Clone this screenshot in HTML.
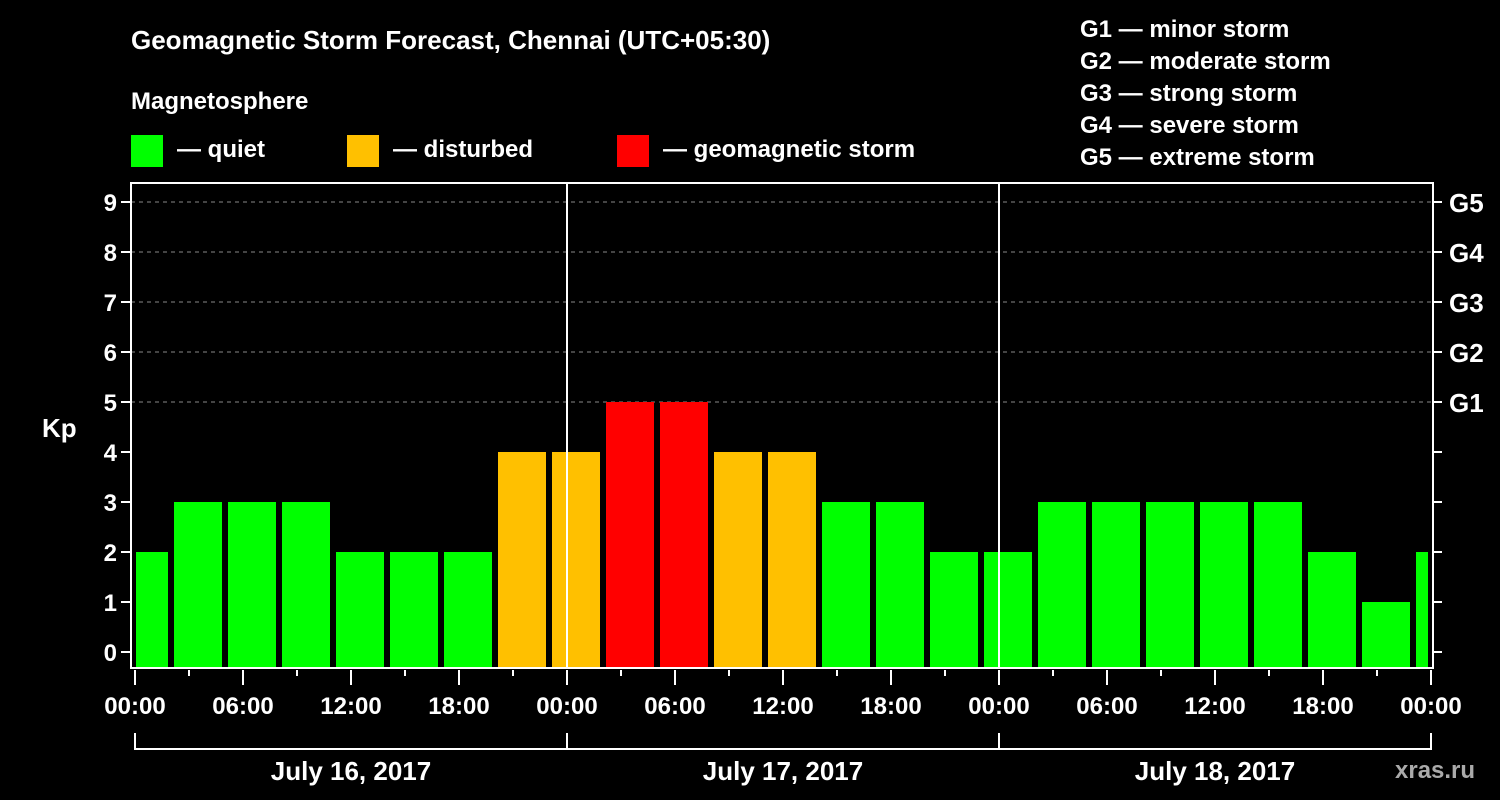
<!DOCTYPE html>
<html><head><meta charset="utf-8"><style>
html,body{margin:0;padding:0;background:#000;width:1500px;height:800px;overflow:hidden}
svg text{font-family:"Liberation Sans",Arial,sans-serif;font-weight:bold;fill:#fff}
</style></head><body>
<svg id="chart" width="1500" height="800" xmlns="http://www.w3.org/2000/svg">
<text x="131" y="49" font-size="26">Geomagnetic Storm Forecast, Chennai (UTC+05:30)</text>
<text x="131" y="109" font-size="24">Magnetosphere</text>
<g>
<rect x="131" y="135" width="32" height="32" fill="#00ff00"/>
<text x="177" y="157" font-size="24">— quiet</text>
<rect x="347" y="135" width="32" height="32" fill="#ffc000"/>
<text x="393" y="157" font-size="24">— disturbed</text>
<rect x="617" y="135" width="32" height="32" fill="#ff0000"/>
<text x="663" y="157" font-size="24">— geomagnetic storm</text>
</g>
<g font-size="24">
<text x="1080" y="37">G1 — minor storm</text>
<text x="1080" y="69">G2 — moderate storm</text>
<text x="1080" y="101">G3 — strong storm</text>
<text x="1080" y="133">G4 — severe storm</text>
<text x="1080" y="165">G5 — extreme storm</text>
</g>
<text x="42" y="437" font-size="26">Kp</text>
<text x="1395" y="778" font-size="24" fill="#aaa" style="fill:#aaa">xras.ru</text>
<g id="plot"></g>
</svg>
<script>
const kpValues=[2,3,3,3,2,2,2,4,4,5,5,4,4,3,3,2,2,3,3,3,3,3,2,1,2];
const yTicks=[0,1,2,3,4,5,6,7,8,9];
const gLabels=["G1","G2","G3","G4","G5"];
const xTickLabels=["00:00","06:00","12:00","18:00","00:00","06:00","12:00","18:00","00:00","06:00","12:00","18:00","00:00"];
const dayLabels=["July 16, 2017","July 17, 2017","July 18, 2017"];
const NS="http://www.w3.org/2000/svg";
const L=131,R=1433,T=183,B=668,X0=135,PXH=18;
const xs=h=>X0+h*PXH;
const ys=k=>652-k*50;
const g=document.getElementById('plot');
function mk(tag,a){const e=document.createElementNS(NS,tag);for(const k in a)e.setAttribute(k,a[k]);g.appendChild(e);return e;}
// grid
for(let k=5;k<=9;k++){const e=mk('line',{x1:L,x2:R,y1:ys(k),y2:ys(k),stroke:'#888','stroke-dasharray':'4,4','stroke-width':1});

}
// bars
kpValues.forEach((v,i)=>{
 let x1=xs(-1+3*i)+3,x2=xs(2+3*i)-3;
 x1=Math.max(x1,L+5);x2=Math.min(x2,R-5);
 const c=v>=5?'#ff0000':(v>=4?'#ffc000':'#00ff00');
 const r=mk('rect',{x:x1,y:ys(v),width:x2-x1,height:B-ys(v),fill:c});
 
 
});
// day separators
[24,48].forEach(h=>{const e=mk('line',{x1:xs(h),x2:xs(h),y1:T,y2:B,stroke:'#fff','stroke-width':2});

});
// frame
const f=mk('path',{d:`M${L},${T}H${R}V${B}H${L}Z`,fill:'none',stroke:'#fff','stroke-width':2});


// y ticks
yTicks.forEach(k=>{
 const t=mk('line',{x1:L-10,x2:L,y1:ys(k),y2:ys(k),stroke:'#fff','stroke-width':2});
 
 
 const t2=mk('line',{x1:R,x2:R+9,y1:ys(k),y2:ys(k),stroke:'#fff','stroke-width':2});
 
 
 const l=mk('text',{x:L-14,y:ys(k)+9,'font-size':24,'text-anchor':'end'});l.textContent=k;
 
 
});
gLabels.forEach((s,i)=>{const l=mk('text',{x:R+16,y:ys(5+i)+10,'font-size':26});l.textContent=s;

});
// x ticks
for(let h=0;h<=72;h+=3){const major=h%6===0;
 const t=mk('line',{x1:xs(h),x2:xs(h),y1:B+2,y2:B+(major?17:8),stroke:'#fff','stroke-width':2});
 
 }
xTickLabels.forEach((s,i)=>{const l=mk('text',{x:xs(i*6),y:714,'font-size':24,'text-anchor':'middle'});l.textContent=s;

});
// day brackets
dayLabels.forEach((s,i)=>{
 const p=mk('path',{d:`M${xs(i*24)},733V749H${xs(i*24+24)}V733`,fill:'none',stroke:'#fff','stroke-width':2});
 
 
 const l=mk('text',{x:xs(i*24+12),y:780,'font-size':26,'text-anchor':'middle'});l.textContent=s;
 
 
});
</script>
</body></html>
